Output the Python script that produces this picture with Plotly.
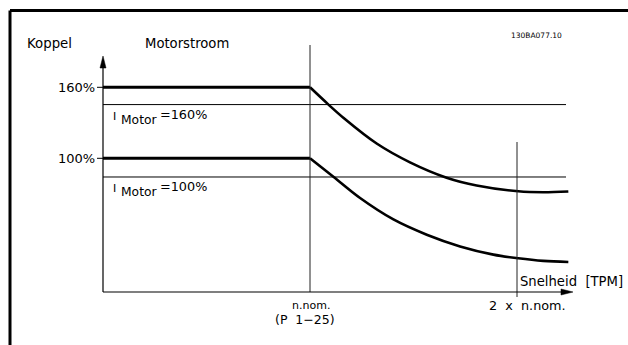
import plotly.graph_objects as go

# ---- data (speed in multiples of n.nom, torque in %) ----
speed_upper = [0, 1.0, 1.088, 1.161, 1.322, 1.483, 1.660, 1.805, 2.006, 2.126, 2.248]
torque_upper = [160, 160, 145.6, 134.3, 112.5, 96.6, 83.6, 77.0, 72.1, 71.3, 72.0]
speed_lower = [0, 1.0, 1.113, 1.242, 1.403, 1.564, 1.725, 1.886, 2.006, 2.127, 2.248]
torque_lower = [100, 100, 84.4, 66.4, 48.3, 35.4, 25.5, 18.6, 15.5, 13.3, 12.4]
current_limits = [145.4, 84.2]
current_labels = ["=160%", "=100%"]
torque_ticks = [160, 100]
torque_tick_labels = ["160%", "100%"]
speed_marks = [1, 2]

W, H = 628, 345
# canvas mapping (pixel -> data) for decoration
X0PX, XSCALE = 103.0, 207.0      # px of speed 0, px per n.nom
Y100PX, YSCALE = 158.3, 1.1831   # px of 100 %, px per %


def px2x(px):
    return (px - X0PX) / XSCALE


def py2y(py):
    return 100 + (Y100PX - py) / YSCALE


xr = [px2x(0), px2x(W)]
yr = [py2y(H), py2y(0)]

fig = go.Figure()
BLK = "#000000"

# thick torque curves: flat part and curved part
for sx, ty in [(speed_upper, torque_upper), (speed_lower, torque_lower)]:
    fig.add_trace(go.Scatter(x=sx[:2], y=ty[:2], mode="lines",
                             line=dict(color=BLK, width=3), hoverinfo="skip"))
    fig.add_trace(go.Scatter(x=sx[1:], y=ty[1:], mode="lines",
                             line=dict(color=BLK, width=2.6, shape="spline", smoothing=1.0),
                             hoverinfo="skip"))

shapes = []
# current limit lines
for c in current_limits:
    shapes.append(dict(type="line", x0=0, x1=px2x(566), y0=c, y1=c,
                       line=dict(color=BLK, width=1)))
# vertical speed marks
shapes.append(dict(type="line", x0=speed_marks[0], x1=speed_marks[0], y0=py2y(45), y1=py2y(292),
                   line=dict(color="#222", width=1)))
shapes.append(dict(type="line", x0=speed_marks[1], x1=speed_marks[1], y0=py2y(142), y1=py2y(297),
                   line=dict(color="#222", width=1)))
# axes
shapes.append(dict(type="line", x0=0, x1=0, y0=py2y(292), y1=py2y(60),
                   line=dict(color=BLK, width=1.2)))
shapes.append(dict(type="line", x0=0, x1=px2x(566), y0=py2y(292), y1=py2y(292),
                   line=dict(color=BLK, width=1.2)))
# arrowheads
shapes.append(dict(type="path",
                   path=f"M {px2x(100)},{py2y(68)} L {px2x(103)},{py2y(56)} L {px2x(106)},{py2y(68)} Z",
                   fillcolor=BLK, line=dict(color=BLK, width=0.5)))
shapes.append(dict(type="path",
                   path=f"M {px2x(561)},{py2y(289)} L {px2x(573)},{py2y(292)} L {px2x(561)},{py2y(295)} Z",
                   fillcolor=BLK, line=dict(color=BLK, width=0.5)))
# y ticks
for t in torque_ticks:
    shapes.append(dict(type="line", x0=px2x(97), x1=0, y0=t, y1=t,
                       line=dict(color=BLK, width=1)))
# outer frame
shapes.append(dict(type="line", x0=px2x(10), x1=px2x(W), y0=py2y(10.5), y1=py2y(10.5),
                   line=dict(color=BLK, width=3)))
shapes.append(dict(type="line", x0=px2x(10), x1=px2x(10), y0=py2y(10.5), y1=py2y(H),
                   line=dict(color=BLK, width=3)))

FONT = "DejaVu Sans"
ann = []


def txt(text, xpx, ypx, size=12, xanchor="left"):
    ann.append(dict(text=text, x=px2x(xpx), y=py2y(ypx), xref="x", yref="y",
                    showarrow=False, xanchor=xanchor, yanchor="middle",
                    font=dict(family=FONT, size=size, color=BLK)))


txt("Koppel", 25, 43, 13.3)
txt("Motorstroom", 143, 43, 13.2)
txt("130BA077.10", 564, 35, 7.5, "right")
for t, lab in zip(torque_ticks, torque_tick_labels):
    ann.append(dict(text=lab, x=px2x(97), y=t, xref="x", yref="y", showarrow=False,
                    xanchor="right", yanchor="middle",
                    font=dict(family=FONT, size=13, color=BLK)))
for c, lab in zip(current_limits, current_labels):
    base = Y100PX + (100 - c) * YSCALE  # px of the limit line
    txt("I", 111, base + 12, 11)
    txt("Motor", 119, base + 15.5, 12.3)
    txt(lab, 158, base + 10, 12.8)
txt("n.nom.", 311, 305, 11, "center")
txt("(P  1\u221225)", 305, 319.5, 12.5, "center")
txt("2  x  n.nom.", 568, 305, 12.8, "right")
txt("Snelheid  [TPM]", 518, 281, 13.2)

fig.update_layout(
    width=W, height=H, margin=dict(l=0, r=0, t=0, b=0),
    paper_bgcolor="white", plot_bgcolor="white", showlegend=False,
    xaxis=dict(range=xr, visible=False, fixedrange=True),
    yaxis=dict(range=yr, visible=False, fixedrange=True),
    shapes=shapes, annotations=ann,
)
fig.write_html("out.html", config={"displayModeBar": False},
               post_script="document.body.style.margin='0';")
